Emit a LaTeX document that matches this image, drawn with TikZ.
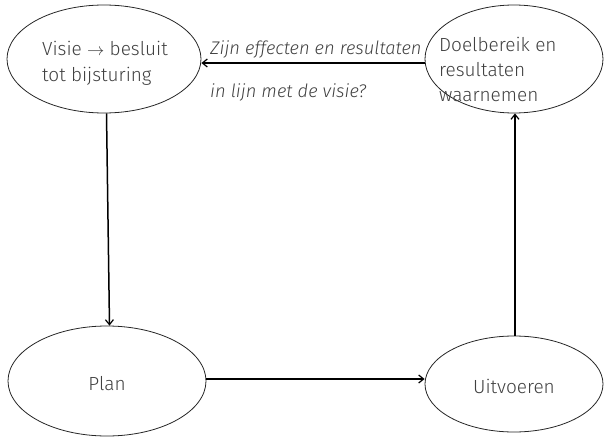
\documentclass[tikz,border=0pt]{standalone}
\usepackage{fontspec}
\setmainfont{Fira Sans Light}[BoldFont=Fira Sans]
\usetikzlibrary{arrows.meta,shapes.geometric}
\definecolor{txt}{HTML}{404040}
\begin{document}
\begin{tikzpicture}[x=1pt,y=-1pt,
  bubble/.style={draw=black!85, line width=0.8pt, ellipse, inner sep=0pt},
  conn/.style={line width=1.5pt, -{Straight Barb[length=5pt,width=8pt,line width=1.2pt]}},
  lbl/.style={text=txt, font=\fontsize{19}{25}\selectfont, align=left, inner sep=0pt},
  note/.style={text=txt, font=\itshape\fontsize{18.3}{22}\selectfont, inner sep=0pt}]
\useasboundingbox (0,0) rectangle (606,439);
\node[bubble, minimum width=194pt, minimum height=108pt] (v) at (104,59) {};
\node[bubble, minimum width=178pt, minimum height=108pt] (d) at (514,59) {};
\node[bubble, minimum width=198pt, minimum height=110pt] (p) at (107,381) {};
\node[bubble, minimum width=178pt, minimum height=96pt] (u) at (514,384) {};
\node[lbl, anchor=base west] (vt) at (42,81) {Visie $\rightarrow$ besluit\\tot bijsturing};
\node[lbl, anchor=base west] (dt) at (439,101) {Doelbereik en\\resultaten\\waarnemen};
\node[lbl] (pt) at (107,384) {Plan};
\node[lbl] (ut) at (514,386) {Uitvoeren};
\draw[conn] ([yshift=-4pt]d.west) -- ([yshift=-4pt]v.east);
\draw[conn] ([xshift=2.5pt]v.south) -- ([xshift=2.5pt]p.north);
\draw[conn] ([yshift=2pt]p.east) -- ([yshift=5pt]u.west);
\draw[conn] ([xshift=1pt]u.north) -- ([xshift=1pt]d.south);
\node[note, anchor=base west] (n1) at (210,54) {Zijn effecten en resultaten};
\node[note, anchor=base west] (n2) at (210,97) {in lijn met de visie?};
\end{tikzpicture}
\end{document}
